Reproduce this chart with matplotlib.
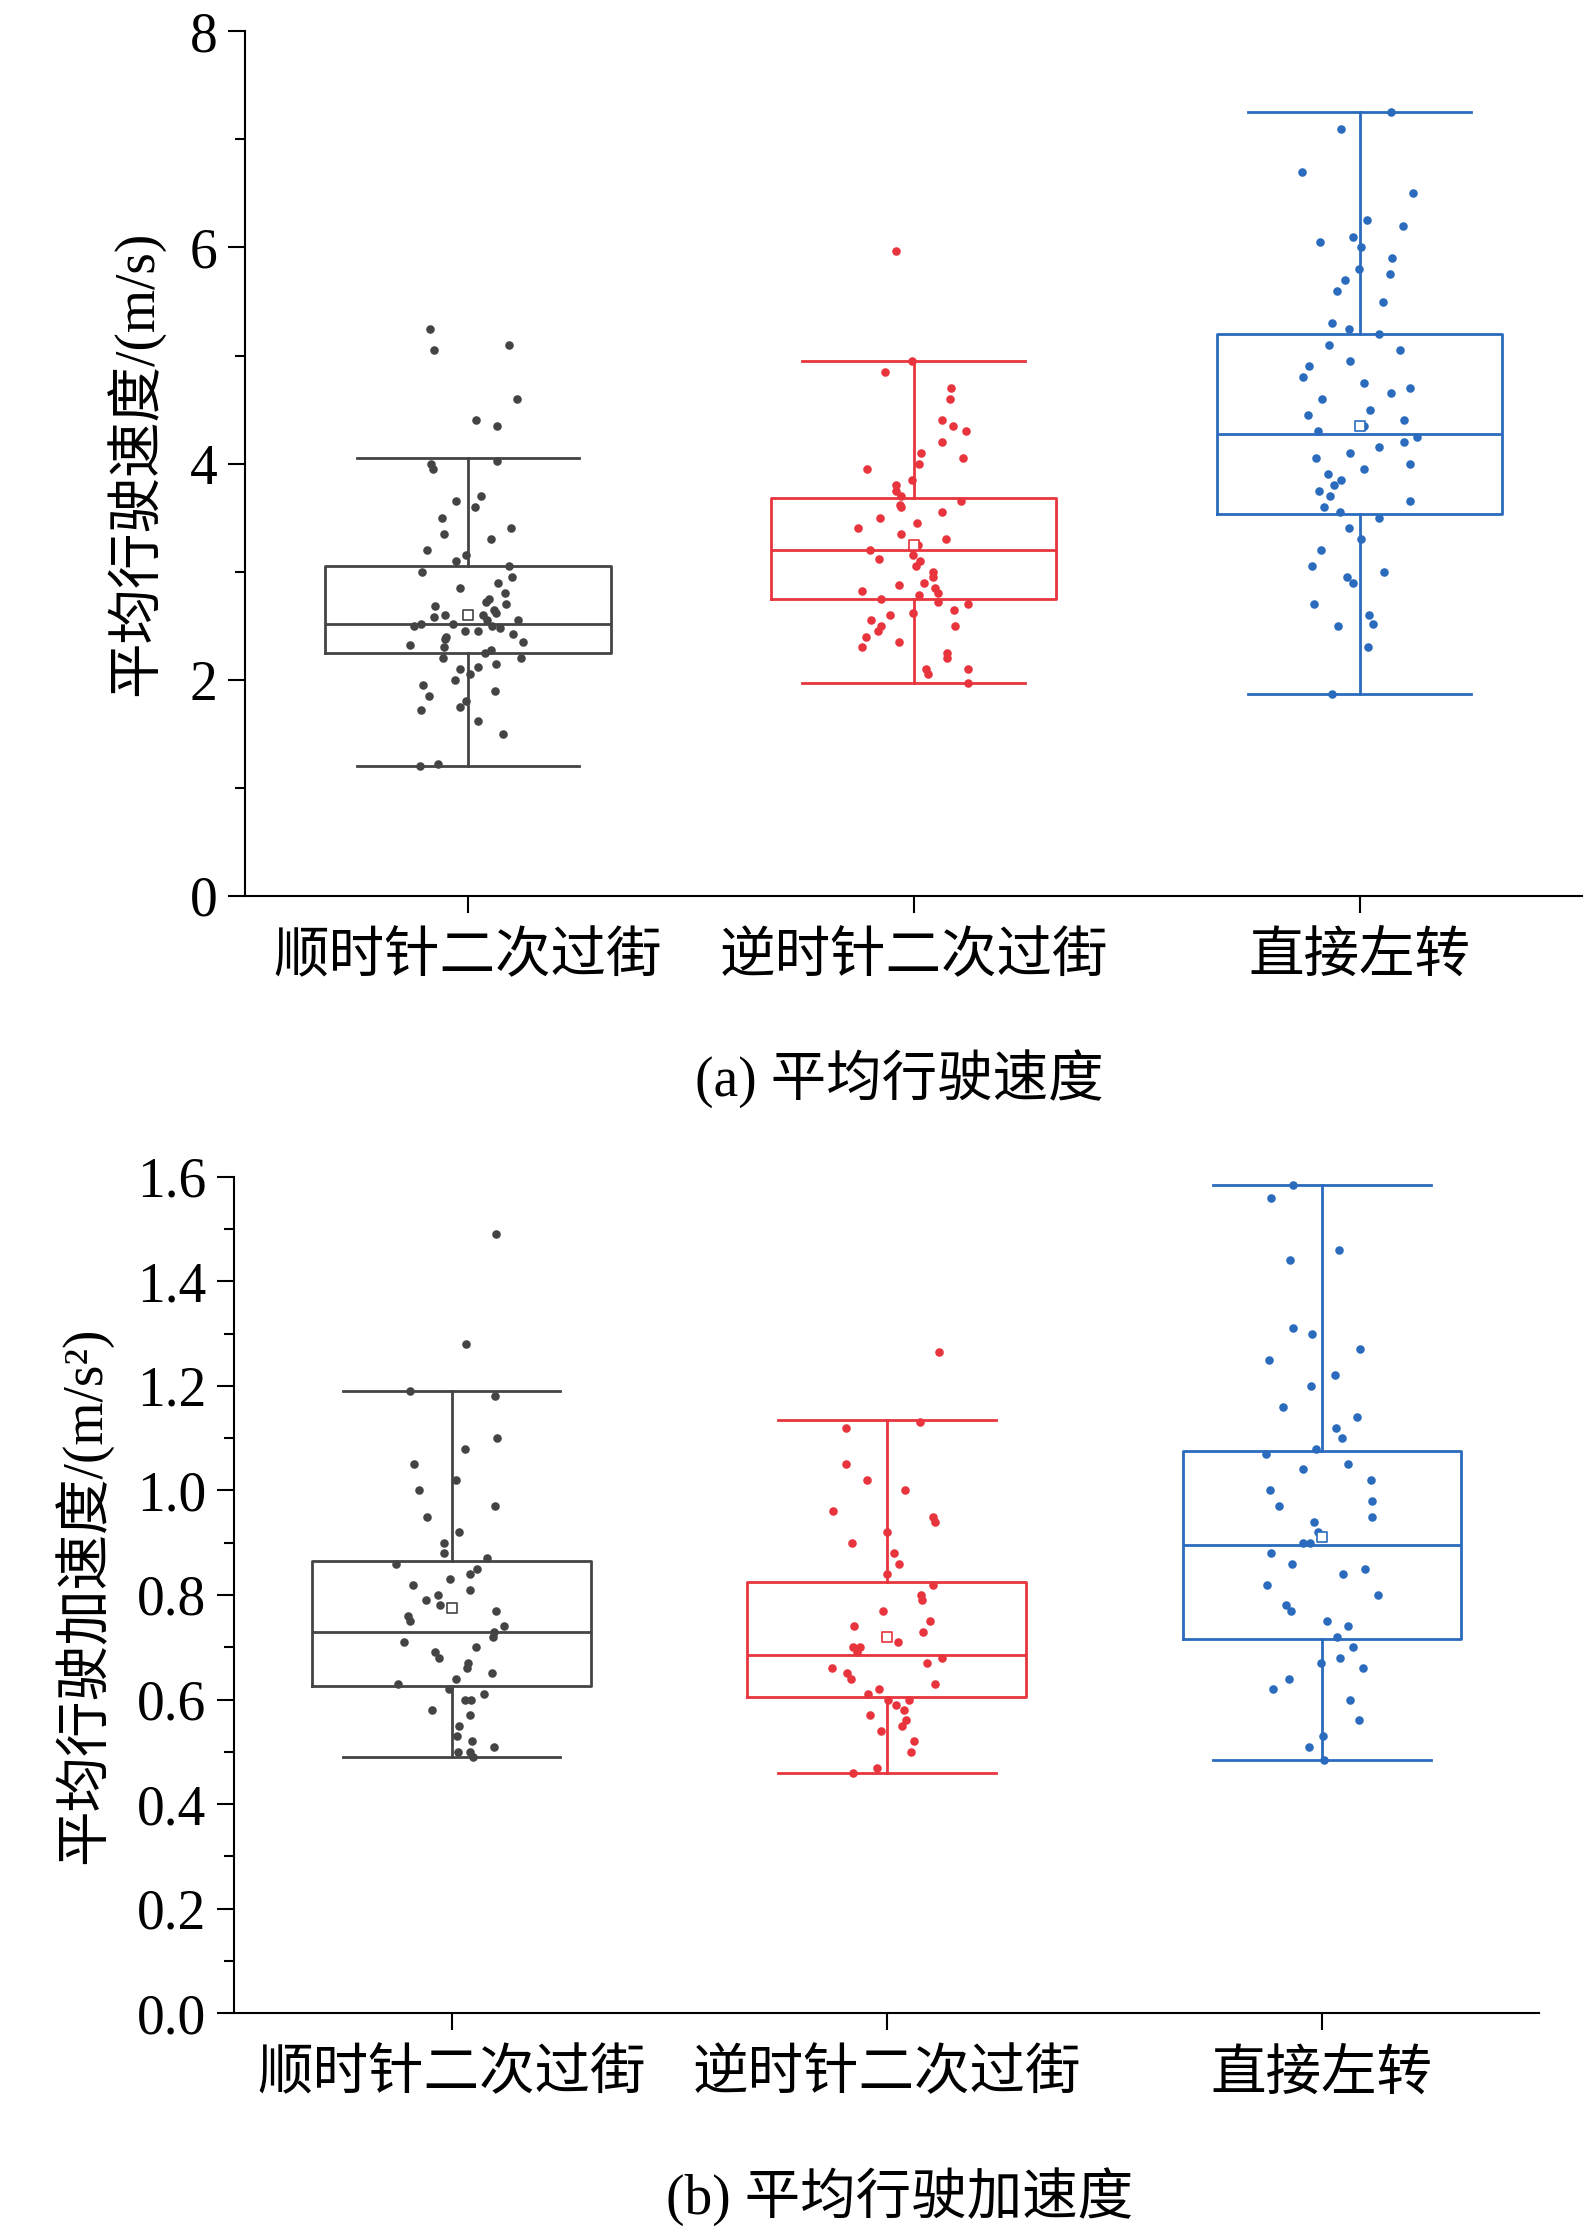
import numpy as np
import matplotlib
matplotlib.use("Agg")
import matplotlib.pyplot as plt
from matplotlib.ticker import MultipleLocator

plt.rcParams['font.family'] = ['Liberation Serif', 'Noto Sans CJK SC', 'DejaVu Sans']

categories = ["顺时针二次过街", "逆时针二次过街", "直接左转"]
colors = ["#444444", "#e8343c", "#2a6bbd"]

# box stats: (whislo, q1, med, q3, whishi, mean)
speed_stats = [(1.2, 2.25, 2.52, 3.05, 4.05, 2.6),
               (1.97, 2.75, 3.2, 3.68, 4.95, 3.25),
               (1.87, 3.53, 4.27, 5.2, 7.25, 4.35)]
acc_stats = [(0.49, 0.625, 0.73, 0.865, 1.19, 0.775),
             (0.46, 0.605, 0.685, 0.825, 1.135, 0.72),
             (0.485, 0.715, 0.895, 1.075, 1.585, 0.91)]

speed_pts = [
    [1.2, 1.22, 1.5, 1.62, 1.72, 1.75, 1.8, 1.85, 1.9, 1.95, 2.0, 2.05, 2.1, 2.12, 2.15, 2.2, 2.2, 2.25,
     2.28, 2.3, 2.32, 2.35, 2.38, 2.4, 2.42, 2.45, 2.45, 2.48, 2.5, 2.5, 2.52, 2.52, 2.55, 2.55, 2.58,
     2.6, 2.6, 2.62, 2.65, 2.68, 2.7, 2.72, 2.75, 2.8, 2.85, 2.9, 2.95, 3.0, 3.05, 3.1, 3.15, 3.2, 3.3,
     3.35, 3.4, 3.5, 3.6, 3.65, 3.7, 3.95, 4.0, 4.02, 4.35, 4.4, 4.6, 5.05, 5.1, 5.25],
    [1.97, 2.05, 2.1, 2.1, 2.2, 2.25, 2.3, 2.35, 2.4, 2.45, 2.5, 2.5, 2.55, 2.6, 2.62, 2.65, 2.7, 2.72,
     2.75, 2.78, 2.8, 2.82, 2.85, 2.88, 2.9, 2.95, 3.0, 3.05, 3.1, 3.12, 3.15, 3.2, 3.22, 3.25, 3.3,
     3.35, 3.4, 3.45, 3.5, 3.55, 3.6, 3.62, 3.65, 3.7, 3.75, 3.8, 3.85, 3.95, 4.0, 4.05, 4.1, 4.2, 4.3,
     4.35, 4.4, 4.6, 4.7, 4.85, 4.95, 5.97],
    [1.87, 2.3, 2.5, 2.52, 2.6, 2.7, 2.9, 2.95, 3.0, 3.05, 3.2, 3.3, 3.4, 3.5, 3.55, 3.6, 3.65, 3.7,
     3.75, 3.8, 3.85, 3.9, 3.95, 4.0, 4.05, 4.1, 4.15, 4.2, 4.25, 4.3, 4.35, 4.4, 4.45, 4.5, 4.6, 4.65,
     4.7, 4.75, 4.8, 4.9, 4.95, 5.05, 5.1, 5.2, 5.25, 5.3, 5.5, 5.6, 5.7, 5.75, 5.8, 5.9, 6.0, 6.05,
     6.1, 6.2, 6.25, 6.5, 6.7, 7.1, 7.25],
]
acc_pts = [
    [0.49, 0.5, 0.5, 0.51, 0.52, 0.53, 0.55, 0.57, 0.58, 0.6, 0.6, 0.61, 0.62, 0.63, 0.64, 0.65, 0.66,
     0.67, 0.68, 0.69, 0.7, 0.71, 0.72, 0.73, 0.74, 0.75, 0.76, 0.77, 0.78, 0.79, 0.8, 0.81, 0.82, 0.83,
     0.84, 0.85, 0.86, 0.87, 0.88, 0.9, 0.92, 0.95, 0.97, 1.0, 1.02, 1.05, 1.08, 1.1, 1.18, 1.19, 1.28, 1.49],
    [0.46, 0.47, 0.5, 0.52, 0.54, 0.55, 0.56, 0.57, 0.58, 0.59, 0.6, 0.6, 0.61, 0.62, 0.63, 0.64, 0.65,
     0.66, 0.67, 0.68, 0.69, 0.7, 0.7, 0.71, 0.72, 0.73, 0.74, 0.75, 0.77, 0.79, 0.8, 0.82, 0.84, 0.86,
     0.88, 0.9, 0.92, 0.94, 0.95, 0.96, 1.0, 1.02, 1.05, 1.12, 1.13, 1.265],
    [0.485, 0.51, 0.53, 0.56, 0.6, 0.62, 0.64, 0.66, 0.67, 0.68, 0.7, 0.72, 0.74, 0.75, 0.77, 0.78, 0.8,
     0.82, 0.84, 0.85, 0.86, 0.88, 0.9, 0.9, 0.92, 0.94, 0.95, 0.97, 0.98, 1.0, 1.02, 1.04, 1.05, 1.07,
     1.08, 1.1, 1.12, 1.14, 1.16, 1.2, 1.22, 1.25, 1.27, 1.3, 1.31, 1.44, 1.46, 1.56, 1.585],
]

FS = 40
fig = plt.figure(figsize=(15.92, 22.37), dpi=100)
ax_a = fig.add_axes([0.154, 0.5995, 0.84, 0.3865])
ax_b = fig.add_axes([0.147, 0.100, 0.82, 0.374])

rng = np.random.default_rng(3)  # horizontal jitter only


def draw(ax, stats, pts, ylim, major, minor, fmt):
    for i, (st, p, c) in enumerate(zip(stats, pts, colors)):
        pos = i + 1
        bx = dict(whislo=st[0], q1=st[1], med=st[2], q3=st[3], whishi=st[4], fliers=[])
        ax.bxp([bx], positions=[pos], widths=0.64, showfliers=False, manage_ticks=False,
               boxprops=dict(color=c, linewidth=2), medianprops=dict(color=c, linewidth=2),
               whiskerprops=dict(color=c, linewidth=2), capprops=dict(color=c, linewidth=2),
               capwidths=0.5)
        p = np.array(p)
        xj = pos + rng.uniform(-0.13, 0.13, len(p))
        ax.scatter(xj, p, s=38, color=c, zorder=3, linewidths=0)
        ax.scatter([pos], [st[5]], marker='s', s=50, facecolor='white', edgecolor=c,
                   linewidths=1.2, zorder=4)
    ax.set_xlim(0.5, 3.5)
    ax.set_ylim(*ylim)
    ax.yaxis.set_major_locator(MultipleLocator(major))
    ax.yaxis.set_minor_locator(MultipleLocator(minor))
    ax.yaxis.set_major_formatter(fmt)
    ax.set_xticks([1, 2, 3])
    ax.set_xticklabels(categories)
    ax.spines['top'].set_visible(False)
    ax.spines['right'].set_visible(False)
    for s in ('left', 'bottom'):
        ax.spines[s].set_linewidth(1.5)
    ax.tick_params(axis='both', which='major', length=12, width=1.5, labelsize=FS, pad=8)
    ax.tick_params(axis='y', which='minor', length=7, width=1.5)
    ax.tick_params(axis='x', pad=14)


draw(ax_a, speed_stats, speed_pts, (0, 8), 2, 1, '{x:.0f}')
draw(ax_b, acc_stats, acc_pts, (0, 1.6), 0.2, 0.1, '{x:.1f}')

ax_a.set_ylabel("平均行驶速度/(m/s)", fontsize=FS, labelpad=18)
ax_b.set_ylabel("平均行驶加速度/(m/s²)", fontsize=FS, labelpad=18)

fig.text(0.565, 0.518, "(a) 平均行驶速度", fontsize=FS, ha='center', va='center')
fig.text(0.565, 0.018, "(b) 平均行驶加速度", fontsize=FS, ha='center', va='center')

fig.savefig("out.png", dpi=100)
